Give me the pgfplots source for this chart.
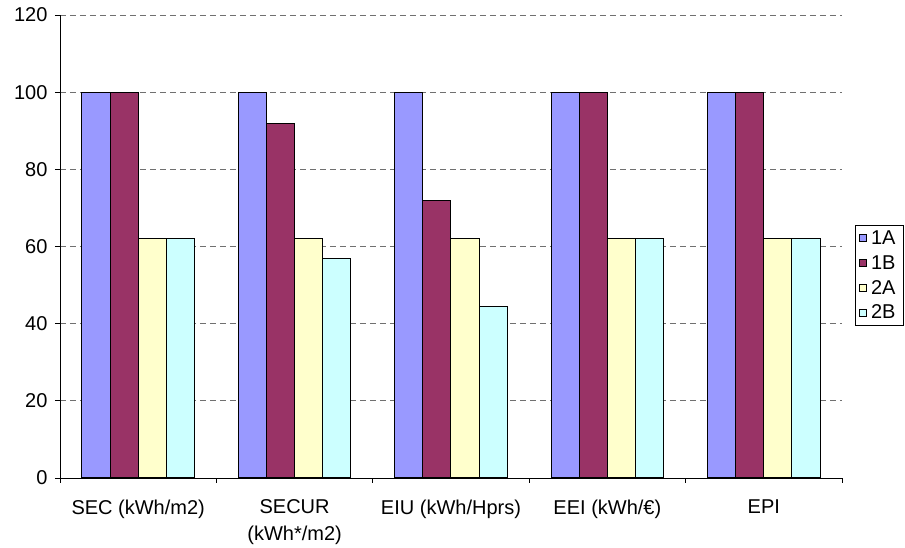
\documentclass[border=0pt]{standalone}
\usepackage{pgfplots}
\pgfplotsset{compat=1.18}
\usepackage{fontspec}
\setmainfont{Liberation Sans}
\definecolor{cA}{HTML}{9999FF}
\definecolor{cB}{HTML}{993366}
\definecolor{cC}{HTML}{FFFFCC}
\definecolor{cD}{HTML}{CCFFFF}
\definecolor{gridgray}{HTML}{707070}
\begin{document}
\begin{tikzpicture}
\begin{axis}[
  width=782pt, height=463pt, scale only axis,
  xmin=-0.5, xmax=4.5, ymin=0, ymax=120,
  axis lines=left, axis line style={-, black, line width=0.9pt},
  ytick={0,20,...,120},
  xtick={0,1,2,3,4},
  xticklabels={SEC (kWh/m2), {SECUR\\(kWh*/m2)}, EIU (kWh/Hprs), EEI (kWh/€), EPI},
  minor xtick={-0.5,0.5,1.5,2.5,3.5,4.5},
  tick align=outside,
  major tick length=5pt, minor tick length=5pt,
  major x tick style={draw=none},
  tick style={black, line width=0.9pt},
  tick label style={font=\fontsize{20}{27}\selectfont},
  xticklabel style={align=center, yshift=-13pt},
  yticklabel style={xshift=-4pt},
  /pgf/number format/assume math mode=true,
  ymajorgrids, major grid style={gridgray, line width=0.9pt, dash pattern=on 6pt off 4pt},
  ybar=0pt, bar width=0.18,
  every axis plot/.append style={draw=black, line width=1pt},
  legend style={at={(axis description cs:1.0166,0.546)}, anchor=north west,
    draw=black, line width=0.7pt, font=\fontsize{20}{22}\selectfont,
    inner xsep=4pt, inner ysep=3pt, row sep=5.5pt,
    nodes={inner xsep=4pt}},
  legend cell align=left,
  legend image code/.code={\draw[#1, line width=0.7pt] (0pt,-3.5pt) rectangle (7pt,3.5pt);},
]
\addplot[fill=cA, bar shift=-0.27] coordinates {(0,100) (1,100) (2,100) (3,100) (4,100)};
\addlegendentry{1A}
\addplot[fill=cB, bar shift=-0.09] coordinates {(0,100) (1,91.8) (2,71.9) (3,100) (4,100)};
\addlegendentry{1B}
\addplot[fill=cC, bar shift=0.09] coordinates {(0,62) (1,62) (2,62) (3,62) (4,62)};
\addlegendentry{2A}
\addplot[fill=cD, bar shift=0.27] coordinates {(0,62) (1,56.8) (2,44.5) (3,62) (4,62)};
\addlegendentry{2B}
\draw[gridgray, line width=0.9pt] (rel axis cs:1,0) -- (rel axis cs:1,1);
\coordinate (bbl) at (axis description cs:-0.0767,-0.1512);
\coordinate (btr) at (axis description cs:1.0806,1.0324);
\end{axis}
\path (bbl) rectangle (btr);
\end{tikzpicture}
\end{document}
